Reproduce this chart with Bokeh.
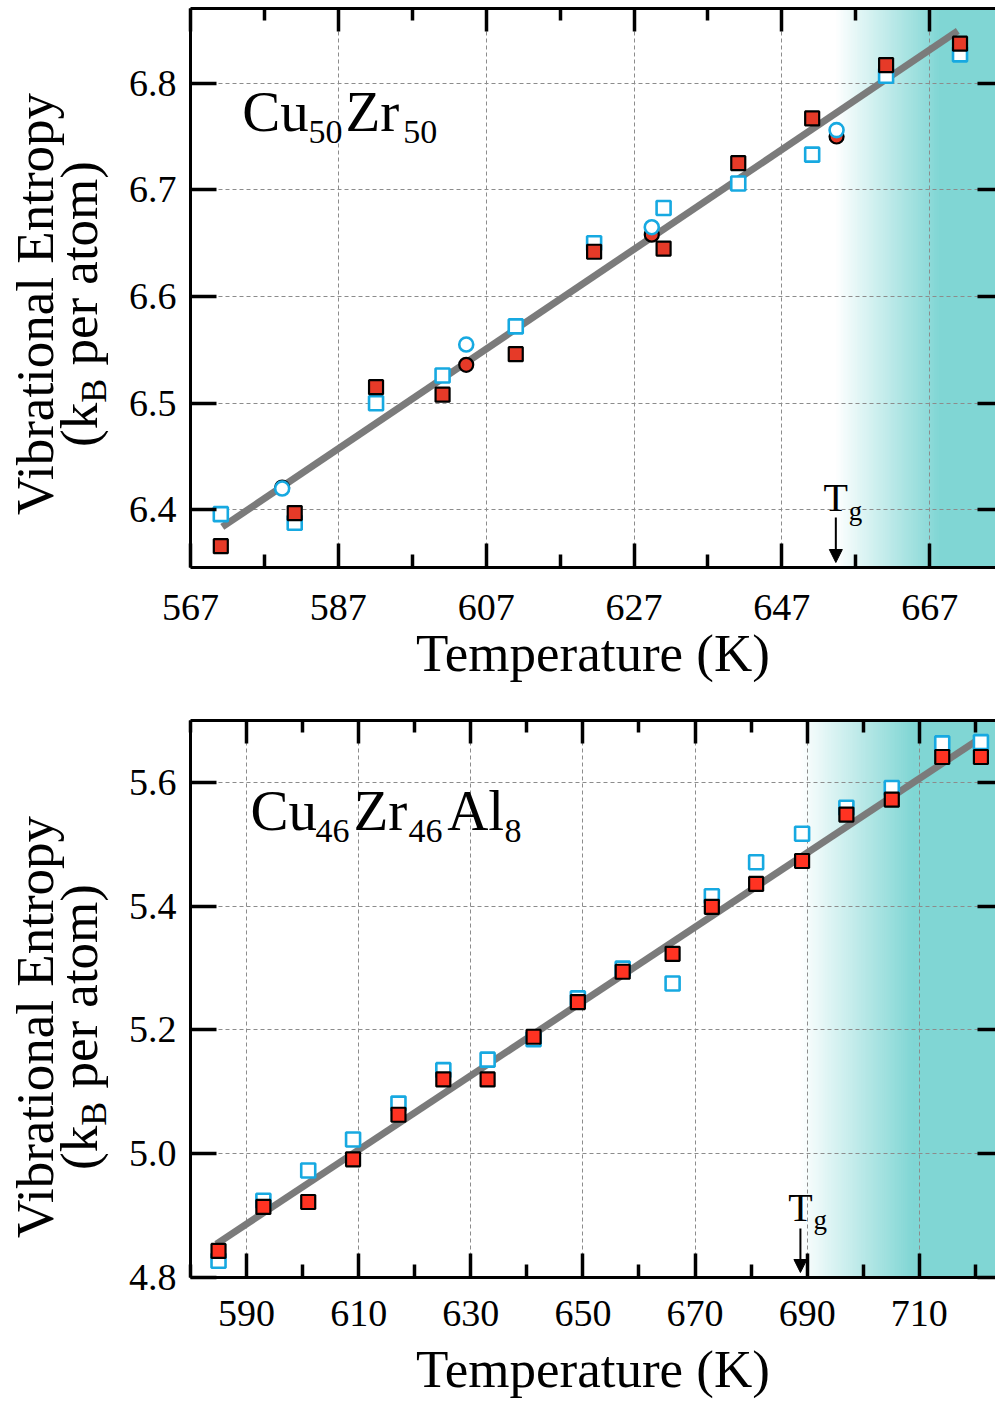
import numpy as np
from bokeh.plotting import figure
from bokeh.models import (Range1d, FixedTicker, LinearAxis, Label, Arrow, NormalHead,
                          CustomJSTickFormatter, PrintfTickFormatter, Div)
from bokeh.layouts import column, row
from bokeh.embed import file_html
from bokeh.resources import INLINE

# ---------------- data: Cu50Zr50 (top) ----------------
top_T_sq = [571.1, 581.1, 592.1, 601.1, 611.0, 621.6, 631.0, 641.1, 651.1, 661.1, 671.1]
top_red_sq = [6.366, 6.397, 6.515, 6.508, 6.546, 6.642, 6.645, 6.725, 6.767, 6.817, 6.837]
top_blue_sq = [6.396, 6.388, 6.500, 6.526, 6.572, 6.650, 6.683, 6.706, 6.733, 6.807, 6.827]
top_T_circ = [579.4, 604.3, 629.4, 654.4]
top_red_circ = [6.421, 6.536, 6.658, 6.750]
top_blue_circ = [6.420, 6.555, 6.665, 6.756]
top_fit_T = [571.3, 670.8]
top_fit_S = [6.384, 6.849]
top_Tg = 654.3
top_xticks = [567, 587, 607, 627, 647, 667]
top_xminor = [577, 597, 617, 637, 657, 677]
top_yticks = [6.4, 6.5, 6.6, 6.7, 6.8]

# ---------------- data: Cu46Zr46Al8 (bottom) ----------------
bot_T = [585.0, 593.0, 601.0, 609.0, 617.1, 625.1, 633.0, 641.2, 649.1, 657.1,
         666.0, 673.0, 680.9, 689.1, 697.0, 705.1, 714.1, 721.0]
bot_red = [4.843, 4.914, 4.922, 4.991, 5.063, 5.120, 5.120, 5.189, 5.245, 5.294,
           5.323, 5.399, 5.436, 5.473, 5.548, 5.572, 5.641, 5.641]
bot_blue = [4.827, 4.924, 4.973, 5.023, 5.081, 5.135, 5.152, 5.185, 5.251, 5.299,
            5.275, 5.416, 5.471, 5.517, 5.559, 5.591, 5.663, 5.665]
bot_fit_T = [584.6, 721.0]
bot_fit_S = [4.854, 5.672]
bot_Tg = 688.8
bot_xticks = [590, 610, 630, 650, 670, 690, 710]
bot_xminor = [580, 600, 620, 640, 660, 680, 700, 720]
bot_yticks = [4.8, 5.0, 5.2, 5.4, 5.6]

FONT = "Liberation Serif"
BLUE = "#17a9e1"
GRID = "#8c8c8c"
TEAL = (128, 214, 212)
K = 0.37          # baseline correction (fraction of font size)
LABW = 120        # width of the y-title strip


def mix(t):
    return "#%02x%02x%02x" % tuple(int(round(255 + (c - 255) * t)) for c in TEAL)


def lab(x, y, text, size, align="left"):
    return Label(x=x, y=y, text=text, text_font=FONT, text_font_size="%gpx" % size,
                 text_color="black", text_align=align, text_baseline="alphabetic")


def ytitle_div(H, center):
    # rotated two-line title: box of width W is rotated -90deg so its centre lands at `center`
    W = 2 * center
    html = (
        '<div style="width:%dpx;height:%dpx;box-sizing:border-box;padding-top:13px;'
        'transform-origin:0 0;transform:translate(0px,%dpx) rotate(-90deg);'
        "font-family:'Liberation Serif';font-size:53px;line-height:44px;color:#000;"
        'text-align:center;white-space:nowrap;">'
        '<div>Vibrational Entropy</div>'
        '<div>(k<span style="font-size:36px;vertical-align:-9px;line-height:0;">B</span> per atom)</div>'
        '</div>'
    ) % (W, LABW, W)
    return Div(text=html, width=LABW, height=H, margin=0)


def panel(cfg):
    x0, x1 = cfg["xr"]
    y0, y1 = cfg["yr"]
    ft, fb = cfg["frame_abs"]
    FL, FR = 190, 995

    def px2x(ax):
        return x0 + (ax - FL) * (x1 - x0) / (FR - FL)

    def px2y(ay):
        return y0 + (fb - ay) * (y1 - y0) / (fb - ft)

    p = figure(width=995 - LABW, height=cfg["height"], x_range=Range1d(x0, x1), y_range=Range1d(y0, y1),
               output_backend="svg", toolbar_location=None,
               min_border_left=190 - LABW, min_border_right=0,
               min_border_top=cfg["mbt"], min_border_bottom=cfg["mbb"])
    p.outline_line_color = None
    p.background_fill_color = "white"
    p.border_fill_color = "white"

    xt = FixedTicker(ticks=cfg["xticks"], minor_ticks=cfg["xminor"])
    yt = FixedTicker(ticks=cfg["yticks"], minor_ticks=[])

    p.xgrid.ticker = FixedTicker(ticks=cfg["xticks"])
    p.ygrid.ticker = FixedTicker(ticks=cfg["yticks"])
    for g in (p.xgrid[0], p.ygrid[0]):
        g.grid_line_color = GRID
        g.grid_line_dash = "4 3"
        g.grid_line_width = 1

    xa = p.xaxis[0]
    xa.ticker = xt
    xa.axis_line_width = 3
    xa.major_tick_in = 24
    xa.major_tick_out = 0
    xa.minor_tick_in = 13
    xa.minor_tick_out = 0
    xa.major_tick_line_width = 3.5
    xa.minor_tick_line_width = 3.5
    xa.major_label_text_font = FONT
    xa.major_label_text_font_size = "38px"
    xa.major_label_text_color = "black"
    xa.major_label_standoff = cfg["xstand"]
    xa.axis_label = "Temperature (K)"
    xa.axis_label_text_font = FONT
    xa.axis_label_text_font_size = "53px"
    xa.axis_label_text_font_style = "normal"
    xa.axis_label_text_color = "black"
    xa.axis_label_standoff = cfg["xlstand"]

    ya = p.yaxis[0]
    ya.ticker = yt
    ya.formatter = PrintfTickFormatter(format="%.1f")
    ya.axis_line_width = 3
    ya.major_tick_in = 26
    ya.major_tick_out = 0
    ya.minor_tick_line_color = None
    ya.major_tick_line_width = 3.5
    ya.major_label_text_font = FONT
    ya.major_label_text_font_size = "38px"
    ya.major_label_text_color = "black"
    ya.major_label_standoff = 14

    blank = CustomJSTickFormatter(code="return ''")
    ta = LinearAxis(ticker=xt, formatter=blank, axis_line_width=3,
                    major_tick_in=23, major_tick_out=0, minor_tick_in=12, minor_tick_out=0,
                    major_tick_line_width=3.5, minor_tick_line_width=3.5,
                    major_label_standoff=0, major_label_text_font_size="1px")
    p.add_layout(ta, "above")
    ra = LinearAxis(ticker=yt, formatter=blank, axis_line_color=None,
                    major_tick_in=18, major_tick_out=0, minor_tick_line_color=None,
                    major_tick_line_width=3.5,
                    major_label_standoff=0, major_label_text_font_size="1px")
    p.add_layout(ra, "right")

    # teal gradient region above Tg
    n = 60
    lefts = np.linspace(cfg["Tg"], cfg["Tg"] + cfg["gw"], n)
    cols = [mix((i + 1) / n) for i in range(n)]
    p.quad(left=lefts, right=[x1 + 5] * n, bottom=[y0 - 1] * n, top=[y1 + 1] * n,
           fill_color=cols, line_color=None, level="image")

    p.line(cfg["fit_T"], cfg["fit_S"], line_width=7, line_color="#7b7b7b")

    p.scatter(cfg["T_sq"], cfg["blue_sq"], marker="square", size=14, fill_color="white",
              line_color=BLUE, line_width=2.6)
    p.scatter(cfg["T_sq"], cfg["red_sq"], marker="square", size=14, fill_color=cfg["red"],
              line_color="black", line_width=2.2)
    if cfg.get("T_circ"):
        p.scatter(cfg["T_circ"], cfg["red_circ"], marker="circle", size=14, fill_color=cfg["red"],
                  line_color="black", line_width=2.2)
        p.scatter(cfg["T_circ"], cfg["blue_circ"], marker="circle", size=14, fill_color="white",
                  line_color=BLUE, line_width=2.6)

    tg = cfg["Tg"]
    ay0, ay1 = cfg["arrow_abs"]
    p.add_layout(Arrow(x_start=tg, y_start=px2y(ay0), x_end=tg, y_end=px2y(ay1),
                       line_width=2, line_color="black",
                       end=NormalHead(size=13, fill_color="black", line_color="black")))
    tb = cfg["tg_base_abs"]
    p.add_layout(lab(tg, px2y(tb - K * 40), "T", 40, "center"))
    gl = lab(tg, px2y(tb + 8 - K * 27), "g", 27, "left")
    gl.x_offset = 13
    p.add_layout(gl)

    base, subbase = cfg["name_base_abs"]
    for txt, ax, sub in cfg["name_parts"]:
        fs = 34 if sub else 57
        yb = subbase if sub else base
        p.add_layout(lab(px2x(ax), px2y(yb - K * fs), txt, fs, "left"))
    return p


top_cfg = dict(
    xr=(567, 675.9), yr=(6.346, 6.870), frame_abs=(8, 567), height=700, mbt=8, mbb=133,
    xticks=top_xticks, xminor=top_xminor, yticks=top_yticks, xstand=27, xlstand=1,
    Tg=top_Tg, gw=14, fit_T=top_fit_T, fit_S=top_fit_S,
    T_sq=top_T_sq, red_sq=top_red_sq, blue_sq=top_blue_sq,
    T_circ=top_T_circ, red_circ=top_red_circ, blue_circ=top_blue_circ,
    red="#e63a28", arrow_abs=(517, 562), tg_base_abs=512,
    name_base_abs=(131.7, 143.7),
    name_parts=[("Cu", 241.7, False), ("50", 308, True), ("Zr", 345, False), ("50", 402.7, True)],
)

bot_cfg = dict(
    xr=(580, 723.6), yr=(4.8, 5.7), frame_abs=(720, 1277), height=703, mbt=20, mbb=126,
    xticks=bot_xticks, xminor=bot_xminor, yticks=bot_yticks, xstand=23, xlstand=11,
    Tg=bot_Tg, gw=20, fit_T=bot_fit_T, fit_S=bot_fit_S,
    T_sq=bot_T, red_sq=bot_red, blue_sq=bot_blue,
    red="#ff3322", arrow_abs=(1228, 1272), tg_base_abs=1221.7,
    name_base_abs=(831, 843.3),
    name_parts=[("Cu", 250, False), ("46", 315, True), ("Zr", 353, False), ("46", 408, True),
                ("Al", 446.7, False), ("8", 504, True)],
)

p1 = panel(top_cfg)
p2 = panel(bot_cfg)
d1 = ytitle_div(700, 304)
d2 = ytitle_div(703, 327)
layout = column(row(d1, p1, spacing=0), row(d2, p2, spacing=0), spacing=0)
open("out.html", "w").write(file_html(layout, INLINE))
